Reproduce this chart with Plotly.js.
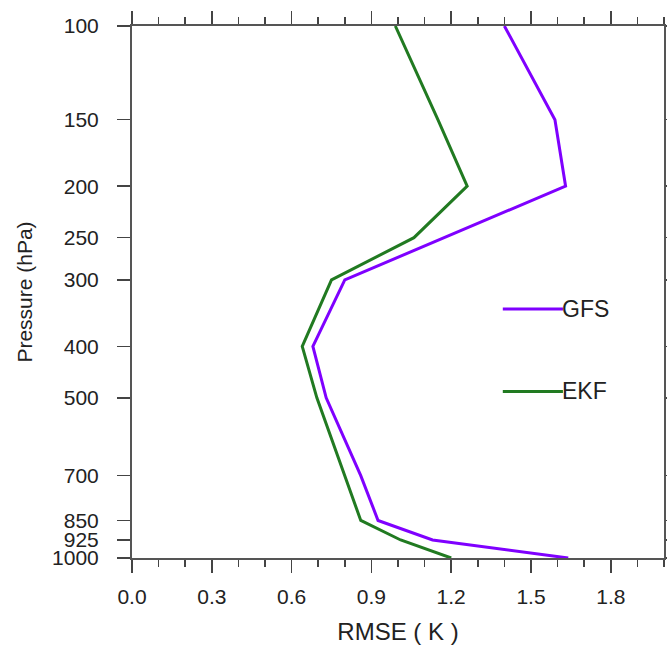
<!DOCTYPE html>
<html>
<head>
<meta charset="utf-8">
<script src="https://cdn.plot.ly/plotly-3.0.1.min.js"></script>
<style>html,body{margin:0;padding:0;background:#fff;}#chart{width:667px;height:648px;}</style>
</head>
<body>
<div id="chart"></div>
<script>
const pressure = [100, 150, 200, 250, 300, 400, 500, 700, 850, 925, 1000];
const gfs = [1.40, 1.59, 1.63, 1.17, 0.80, 0.68, 0.73, 0.86, 0.925, 1.13, 1.64];
const ekf = [0.99, 1.15, 1.26, 1.06, 0.75, 0.64, 0.695, 0.80, 0.86, 1.01, 1.20];
const pressureTicks = [100, 150, 200, 250, 300, 400, 500, 700, 850, 925, 1000];
const seriesNames = ['GFS', 'EKF'];
const seriesColors = ['#7f00ff', '#217a21'];

const FONT = 'Liberation Sans, Arial, Helvetica, sans-serif';

const traces = [
  {x: gfs, y: pressure, mode: 'lines', name: seriesNames[0], line: {color: seriesColors[0], width: 3}, showlegend: false},
  {x: ekf, y: pressure, mode: 'lines', name: seriesNames[1], line: {color: seriesColors[1], width: 3}, showlegend: false}
];

const axisCommon = {
  showline: true, linecolor: '#555', linewidth: 2,
  ticks: 'outside', tickcolor: '#444', tickwidth: 1.5, ticklen: 13,
  mirror: 'allticks', showgrid: false, zeroline: false,
  tickfont: {family: FONT, size: 21, color: '#222'}
};

const layout = {
  width: 667, height: 648,
  margin: {l: 132, r: 3, t: 26, b: 90},
  paper_bgcolor: '#fff', plot_bgcolor: '#fff',
  xaxis: Object.assign({}, axisCommon, {
    range: [0, 2], tick0: 0, dtick: 0.3, tickformat: '.1f',
    minor: {dtick: 0.1, ticks: 'outside', ticklen: 7, tickcolor: '#444', tickwidth: 1.5},
    ticklabelstandoff: 6,
    title: {text: 'RMSE ( K )', standoff: 16, font: {family: FONT, size: 24, color: '#222'}}
  }),
  yaxis: Object.assign({}, axisCommon, {
    type: 'log', range: [3, 2], tickmode: 'array',
    tickvals: pressureTicks, ticktext: pressureTicks.map(String),
    ticklabelstandoff: 14,
    title: {text: 'Pressure (hPa)', standoff: 14, font: {family: FONT, size: 21, color: '#222'}}
  }),
  shapes: [
    {type: 'line', xref: 'paper', yref: 'paper', x0: 0.697, x1: 0.810, y0: 0.468, y1: 0.468, line: {color: seriesColors[0], width: 3}},
    {type: 'line', xref: 'paper', yref: 'paper', x0: 0.697, x1: 0.810, y0: 0.313, y1: 0.313, line: {color: seriesColors[1], width: 3}}
  ],
  annotations: [
    {xref: 'paper', yref: 'paper', x: 0.808, y: 0.468, xanchor: 'left', yanchor: 'middle', xshift: -2, text: seriesNames[0], showarrow: false, font: {family: FONT, size: 23, color: '#222'}},
    {xref: 'paper', yref: 'paper', x: 0.808, y: 0.313, xanchor: 'left', yanchor: 'middle', xshift: -2, text: seriesNames[1], showarrow: false, font: {family: FONT, size: 23, color: '#222'}}
  ]
};

Plotly.newPlot('chart', traces, layout, {displayModeBar: false, staticPlot: true});
</script>
</body>
</html>
